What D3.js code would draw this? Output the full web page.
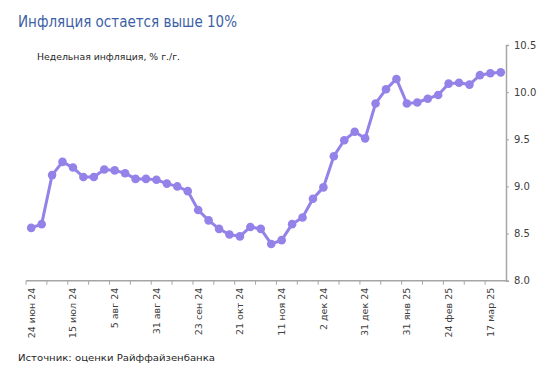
<!DOCTYPE html>
<html>
<head>
<meta charset="utf-8">
<script src="https://cdn.jsdelivr.net/npm/d3@7"></script>
<style>
  body { margin: 0; background: #fff; }
  text { font-family: "DejaVu Sans", sans-serif; }
</style>
</head>
<body>
<svg id="chart" width="553" height="376"></svg>
<script>
// données : inflation hebdomadaire, % г./г.
var dates = ["24 июн 24","30 июн 24","1 июл 24","8 июл 24","15 июл 24","22 июл 24","29 июл 24","31 июл 24",
  "5 авг 24","12 авг 24","19 авг 24","26 авг 24","31 авг 24","2 сен 24","9 сен 24","16 сен 24",
  "23 сен 24","30 сен 24","7 окт 24","14 окт 24","21 окт 24","28 окт 24","31 окт 24","4 ноя 24",
  "11 ноя 24","18 ноя 24","25 ноя 24","30 ноя 24","2 дек 24","9 дек 24","16 дек 24","23 дек 24",
  "31 дек 24","13 янв 25","20 янв 25","27 янв 25","31 янв 25","3 фев 25","10 фев 25","17 фев 25",
  "24 фев 25","28 фев 25","3 мар 25","10 мар 25","17 мар 25","24 мар 25"];
var inflation = [8.56,8.60,9.12,9.26,9.20,9.10,9.10,9.18,
  9.17,9.14,9.08,9.08,9.07,9.03,9.00,8.95,
  8.75,8.64,8.55,8.49,8.47,8.57,8.55,8.39,
  8.43,8.60,8.67,8.87,8.99,9.32,9.49,9.58,
  9.51,9.88,10.03,10.14,9.88,9.89,9.93,9.97,
  10.09,10.10,10.08,10.18,10.20,10.21];
var yTicks = [8.0, 8.5, 9.0, 9.5, 10.0, 10.5];

const titre = "Инфляция остается выше 10%";
const sousTitre = "Недельная инфляция, % г./г.";
const source = "Источник: оценки Райффайзенбанка";

var svg = d3.select("#chart");

var x = d3.scalePoint()
  .domain(dates)
  .range([26, 506])
  .padding(0.5);
var step = x.step();

var y = d3.scaleLinear()
  .domain([8.0, 10.5])
  .range([280.7, 45]);

// titres
svg.append("text").attr("x", 18).attr("y", 27)
  .attr("font-size", 15.5).attr("fill", "#3d5fa6")
  .attr("textLength", 219).attr("lengthAdjust", "spacingAndGlyphs")
  .text(titre);
svg.append("text").attr("x", 37).attr("y", 60)
  .attr("font-size", 9.5).attr("fill", "#262626")
  .attr("textLength", 143).attr("lengthAdjust", "spacingAndGlyphs")
  .text(sousTitre);
svg.append("text").attr("x", 18).attr("y", 361)
  .attr("font-size", 9.5).attr("fill", "#262626")
  .attr("textLength", 197).attr("lengthAdjust", "spacingAndGlyphs")
  .text(source);

// axe Y à droite
var axeY = svg.append("g")
  .attr("transform", "translate(506,0)")
  .call(d3.axisRight(y).tickValues(yTicks).tickFormat(d3.format(".1f")).tickSize(3).tickPadding(5));
axeY.select(".domain").attr("stroke", "#a6a6a6").attr("stroke-width", 1.5);
axeY.selectAll(".tick line").attr("stroke", "#a6a6a6");
axeY.selectAll("text").attr("font-size", 10).attr("fill", "#404040")
  .style("font-family", "DejaVu Sans, sans-serif");

// axe X
var yBase = y(8.0);
svg.append("line").attr("x1", 26).attr("x2", 506)
  .attr("y1", yBase).attr("y2", yBase)
  .attr("stroke", "#a6a6a6").attr("stroke-width", 1.5);

svg.append("g").selectAll("line")
  .data(dates.filter(function(d, i){ return i % 2 == 0; }))
  .enter().append("line")
  .attr("x1", function(d){ return x(d) - step / 2; })
  .attr("x2", function(d){ return x(d) - step / 2; })
  .attr("y1", yBase).attr("y2", yBase + 4)
  .attr("stroke", "#a6a6a6");

svg.append("g").selectAll("text")
  .data(dates.filter(function(d, i){ return i % 4 == 0; }))
  .enter().append("text")
  .attr("transform", function(d){ return "translate(" + x(d) + "," + (yBase + 7) + ") rotate(-90)"; })
  .attr("dy", "0.35em")
  .attr("text-anchor", "end")
  .attr("font-size", 9.5)
  .attr("fill", "#404040")
  .text(function(d){ return d; });

// série
var couleur = "#9582e8";
var ligne = d3.line()
  .x(function(d, i){ return x(dates[i]); })
  .y(function(d){ return y(d); });

svg.append("path")
  .datum(inflation)
  .attr("d", ligne)
  .attr("fill", "none")
  .attr("stroke", couleur)
  .attr("stroke-width", 3);

svg.append("g").selectAll("circle")
  .data(inflation)
  .enter().append("circle")
  .attr("cx", function(d, i){ return x(dates[i]); })
  .attr("cy", function(d){ return y(d); })
  .attr("r", 4.3)
  .attr("fill", couleur);
</script>
</body>
</html>
